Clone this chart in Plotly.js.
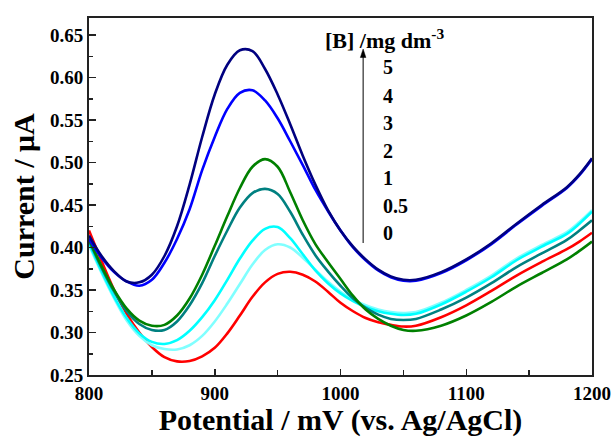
<!DOCTYPE html>
<html>
<head>
<meta charset="utf-8">
<script src="https://cdn.plot.ly/plotly-3.0.1.min.js"></script>
<style>html,body{margin:0;padding:0;background:#fff;}#chart{width:612px;height:437px;}</style>
</head>
<body>
<div id="chart"></div>
<script>
// Concentrations of [B] / mg dm^-3
const concLabels = ['5', '4', '3', '2', '1', '0.5', '0'];
const seriesColors = ['#000080', '#0000FF', '#008000', '#008080', '#00FFFF', '#80FFFF', '#FF0000'];

// Potential (mV), shared by all curves
const potential = [800, 810, 820, 830, 840, 850, 860, 870, 880, 890, 900, 910, 920, 930, 940, 950, 960, 970, 980, 990, 1000, 1010, 1020, 1030, 1040, 1050, 1060, 1080, 1100, 1120, 1140, 1160, 1180, 1190, 1200];

// Current (uA) for each concentration
const i5  = [0.414, 0.390, 0.372, 0.360, 0.359, 0.368, 0.390, 0.425, 0.474, 0.530, 0.580, 0.615, 0.632, 0.631, 0.610, 0.580, 0.545, 0.508, 0.474, 0.444, 0.420, 0.401, 0.386, 0.374, 0.366, 0.362, 0.362, 0.371, 0.386, 0.405, 0.428, 0.450, 0.471, 0.486, 0.505];
const i4  = [0.410, 0.388, 0.371, 0.360, 0.355, 0.362, 0.382, 0.410, 0.445, 0.491, 0.530, 0.563, 0.582, 0.585, 0.573, 0.552, 0.525, 0.497, 0.468, 0.443, 0.420, 0.400, 0.385, 0.373, 0.365, 0.361, 0.361, 0.370, 0.385, 0.404, 0.427, 0.449, 0.470, 0.485, 0.504];
const i3  = [0.410, 0.378, 0.350, 0.328, 0.314, 0.308, 0.309, 0.320, 0.340, 0.368, 0.402, 0.437, 0.470, 0.495, 0.504, 0.495, 0.465, 0.432, 0.404, 0.383, 0.363, 0.343, 0.327, 0.316, 0.308, 0.303, 0.302, 0.308, 0.320, 0.336, 0.354, 0.370, 0.386, 0.396, 0.407];
const i2  = [0.408, 0.376, 0.348, 0.325, 0.310, 0.303, 0.303, 0.313, 0.332, 0.358, 0.390, 0.420, 0.447, 0.464, 0.469, 0.463, 0.442, 0.415, 0.391, 0.372, 0.355, 0.340, 0.329, 0.321, 0.316, 0.3147, 0.316, 0.327, 0.341, 0.358, 0.377, 0.393, 0.409, 0.420, 0.432];
const i1  = [0.405, 0.372, 0.342, 0.317, 0.299, 0.289, 0.2865, 0.291, 0.302, 0.318, 0.338, 0.362, 0.387, 0.408, 0.422, 0.424, 0.411, 0.392, 0.373, 0.358, 0.346, 0.337, 0.330, 0.325, 0.322, 0.3206, 0.322, 0.333, 0.348, 0.365, 0.385, 0.401, 0.416, 0.428, 0.442];
const i05 = [0.403, 0.370, 0.340, 0.314, 0.296, 0.285, 0.2805, 0.2800, 0.285, 0.296, 0.313, 0.334, 0.357, 0.380, 0.397, 0.4038, 0.400, 0.388, 0.374, 0.360, 0.348, 0.339, 0.332, 0.327, 0.324, 0.323, 0.324, 0.335, 0.350, 0.367, 0.387, 0.403, 0.418, 0.430, 0.444];
const i0  = [0.420, 0.384, 0.350, 0.322, 0.300, 0.283, 0.271, 0.2660, 0.2665, 0.272, 0.282, 0.299, 0.320, 0.342, 0.359, 0.369, 0.3715, 0.368, 0.360, 0.348, 0.335, 0.325, 0.317, 0.312, 0.309, 0.307, 0.308, 0.318, 0.332, 0.349, 0.367, 0.383, 0.398, 0.407, 0.4174];

const currents = [i5, i4, i3, i2, i1, i05, i0];

// draw 0 first so higher concentrations lie on top
const traces = [];
for (let i = currents.length - 1; i >= 0; i--) {
  traces.push({
    x: potential, y: currents[i], type: 'scatter', mode: 'lines',
    name: concLabels[i],
    line: {color: seriesColors[i], width: 2.6, shape: 'spline', smoothing: 1},
    hoverinfo: 'skip'
  });
}

const FONT = 'Liberation Serif, Times New Roman, serif';

const annotations = [];
annotations.push({
  xref: 'x', yref: 'y', x: 986, y: 0.645, xanchor: 'left', yanchor: 'middle',
  text: '[B] /mg dm<sup>-3</sup>', showarrow: false,
  font: {family: FONT, size: 22, color: '#000', weight: 'bold'}
});
const labelY = [0.612, 0.578, 0.546, 0.5135, 0.4814, 0.4488, 0.4167];
concLabels.forEach((t, i) => {
  annotations.push({
    xref: 'x', yref: 'y', x: 1032.4, y: labelY[i], xanchor: 'left', yanchor: 'middle',
    text: t, showarrow: false,
    font: {family: FONT, size: 20, color: '#000', weight: 'bold'}
  });
});

const shapes = [
  {type: 'line', xref: 'x', yref: 'y', x0: 1018, x1: 1018, y0: 0.4053, y1: 0.626,
   line: {color: '#000', width: 1}},
  {type: 'path', xref: 'x', yref: 'y', path: 'M 1018 0.6335 L 1015.8 0.6235 L 1020.2 0.6235 Z',
   fillcolor: '#000', line: {color: '#000', width: 0.5}}
];

const layout = {
  width: 612, height: 437,
  margin: {l: 89, r: 20, t: 18, b: 62},
  paper_bgcolor: '#fff', plot_bgcolor: '#fff',
  showlegend: false,
  font: {family: FONT, color: '#000'},
  xaxis: {
    range: [800, 1200], dtick: 100, tick0: 800,
    ticks: 'inside', ticklen: 6, tickwidth: 1.5, tickcolor: '#222',
    minor: {dtick: 50, ticks: 'inside', ticklen: 5, tickwidth: 1.5, tickcolor: '#222'},
    showline: true, linecolor: '#222', linewidth: 2, mirror: true,
    showgrid: false, zeroline: false,
    tickfont: {family: FONT, size: 19, color: '#000', weight: 'bold'},
    title: {text: 'Potential / mV (vs. Ag/AgCl)', standoff: 4,
            font: {family: FONT, size: 30, color: '#000', weight: 'bold'}}
  },
  yaxis: {
    range: [0.25, 0.67], dtick: 0.05, tick0: 0.25, tickformat: '.2f',
    ticks: 'inside', ticklen: 7, tickwidth: 1.5, tickcolor: '#222',
    minor: {dtick: 0.025, ticks: 'inside', ticklen: 4, tickwidth: 1.5, tickcolor: '#222'},
    showline: true, linecolor: '#222', linewidth: 2, mirror: true,
    showgrid: false, zeroline: false,
    tickfont: {family: FONT, size: 19, color: '#000', weight: 'bold'},
    title: {text: 'Current / μA', standoff: 6,
            font: {family: FONT, size: 30, color: '#000', weight: 'bold'}}
  },
  annotations: annotations,
  shapes: shapes
};

Plotly.newPlot('chart', traces, layout, {displayModeBar: false, staticPlot: true});
</script>
</body>
</html>
